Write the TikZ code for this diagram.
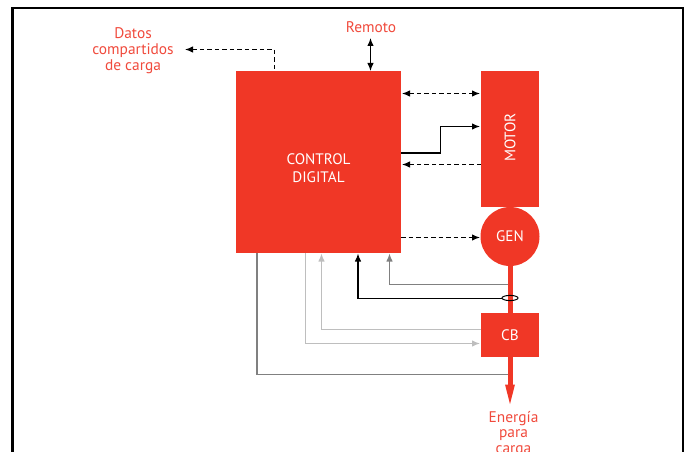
\documentclass[tikz,border=0pt]{standalone}
\usepackage{fontspec}
\setmainfont{PT Sans}
\usetikzlibrary{arrows.meta}
\definecolor{rojo}{HTML}{F03726}
\definecolor{rojot}{HTML}{F04A3C}
\definecolor{gmid}{HTML}{808080}
\definecolor{glight}{HTML}{BEBEBE}
\tikzset{
  x=1pt,y=-1pt,
  block/.style={fill=rojo,draw=none,inner sep=0pt,text=white,align=center,font=\fontsize{15.2}{18}\selectfont},
  redtext/.style={text=rojot,align=center,inner sep=0pt,font=\fontsize{15.4}{15.7}\selectfont},
  endtip/.style={-{Latex[length=8pt,width=6.5pt]}},
  bothtip/.style={{Latex[length=8pt,width=6.5pt]}-{Latex[length=8pt,width=6.5pt]}},
  starttip/.style={{Latex[length=8pt,width=6.5pt]}-},
  sigline/.style={line width=1.2pt,black},
  dashline/.style={line width=1.2pt,black,dash pattern=on 4.5pt off 3pt},
  fbline/.style={line width=1.2pt,gmid},
  fblight/.style={line width=1.2pt,glight}
}
\begin{document}
\begin{tikzpicture}
\useasboundingbox (0,0) rectangle (686,452);
\clip (0,0) rectangle (686,452);
\draw[line width=2.6pt,black] (12.3,470) -- (12.3,8) -- (683,8) -- (683,470);
\node[block,minimum width=165pt,minimum height=182pt] (ctrl) at (318.5,162) {};
\node[block] (ctrlt) at (318.5,168) {CONTROL\\DIGITAL};
\node[block,minimum width=58pt,minimum height=136pt] (motor) at (510,139) {};
\node[block,rotate=90] (motort) at (510,137.5) {MOTOR};
\node[block,circle,minimum size=59pt] (gen) at (510,236.5) {GEN};
\node[block,minimum width=58pt,minimum height=44pt] (cb) at (510,335) {CB};
\node[redtext] (datos) at (133,50.5) {Datos\\compartidos\\de carga};
\node[redtext] (remoto) at (371,27) {Remoto};
\node[redtext] (energia) at (513.5,434) {Energía\\para\\carga};
\coordinate (tipload) at (510,404);
\coordinate (oval) at (510,298);
\coordinate (datosend) at (185,49.5);
% power line
\draw[rojo,line width=5pt] (gen.south) -- (cb.north);
\draw[rojo,line width=5pt] (cb.south) -- (510,388);
\path[fill=rojo] (505,384.5) -- (515,384.5) -- (tipload) -- cycle;
% signals
\draw[dashline,starttip] (datosend) -- (274.5,49.5) -- (274.5,71);
\draw[sigline,bothtip] (370.5,38) -- (370.5,71);
\draw[dashline,bothtip] (402,93.5) -- (480,93.5);
\draw[sigline,endtip] (401,153) -- (440.5,153) -- (440.5,126.5) -- (480,126.5);
\draw[dashline,endtip] (481,164.5) -- (402,164.5);
\draw[dashline,endtip] (401,237.5) -- (480,237.5);
% feedback
\draw[fbline,endtip] (507.5,284.5) -- (389.5,284.5) -- (389.5,253.5);
\draw[sigline,endtip] (502,298.5) -- (358,298.5) -- (358,253.5);
\draw[fblight,endtip] (481,329.5) -- (321.5,329.5) -- (321.5,253.5);
\draw[fblight,endtip] (305.5,253) -- (305.5,343.5) -- (480,343.5);
\draw[fbline] (257,253) -- (257,374.5) -- (507.5,374.5);
% current-transformer ring
\draw[black,line width=1pt] (oval) ellipse (8pt and 2.6pt);
\end{tikzpicture}
\end{document}
